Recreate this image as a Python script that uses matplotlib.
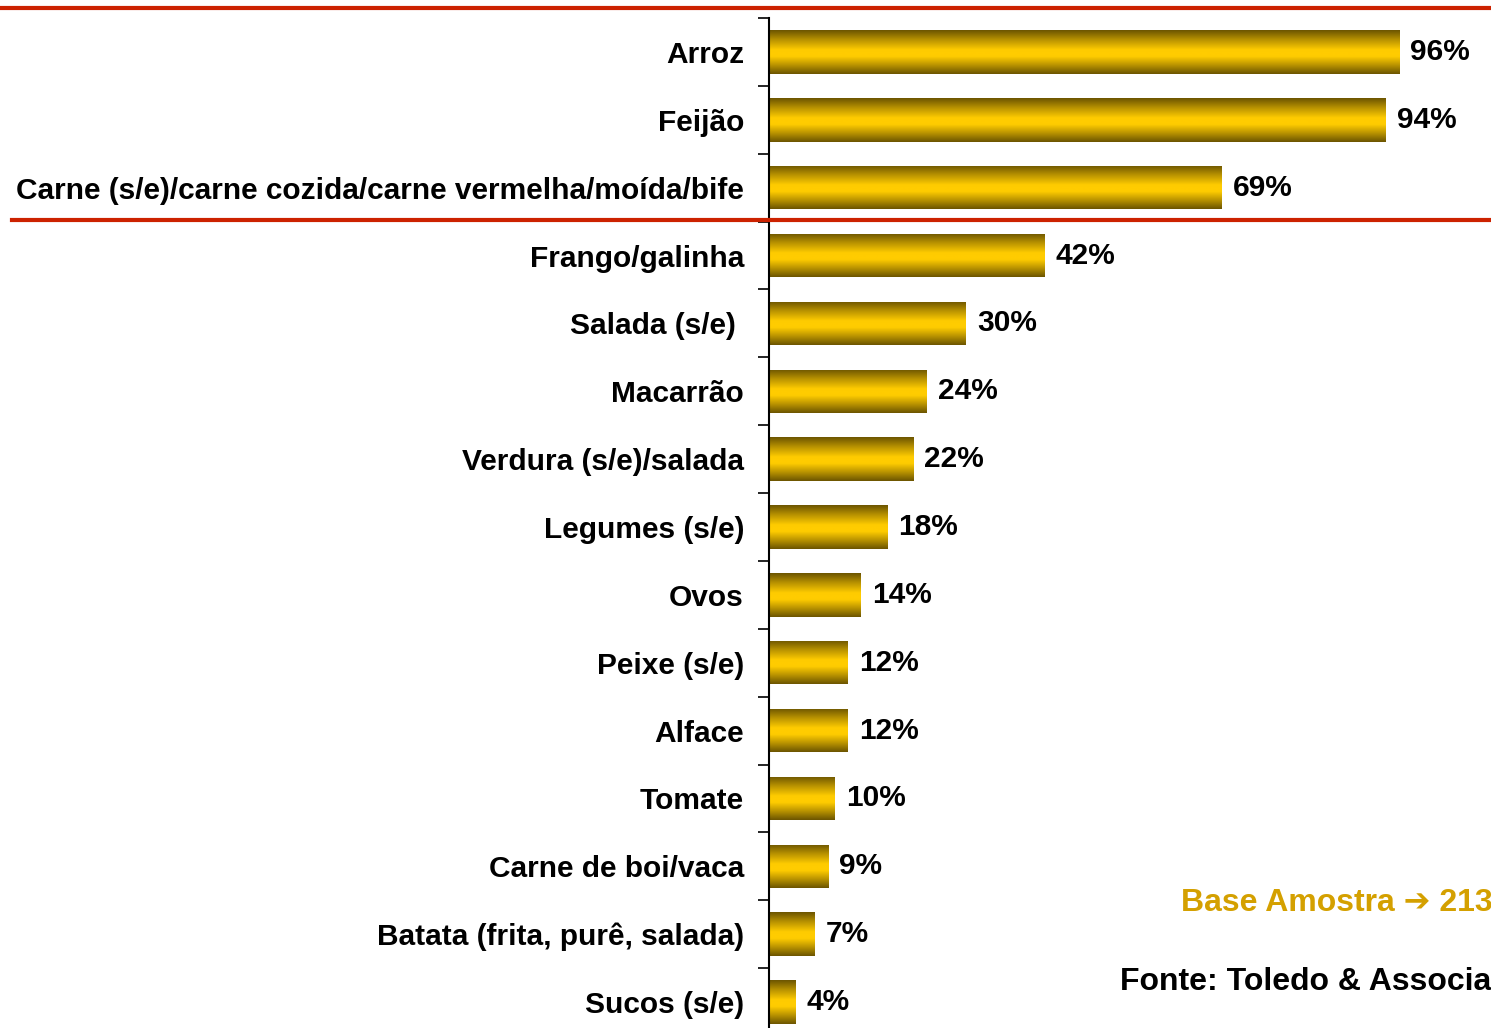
import matplotlib
matplotlib.use("Agg")
import matplotlib.pyplot as plt
import numpy as np
from matplotlib.colors import LinearSegmentedColormap
import matplotlib.transforms as mtransforms

plt.rcParams['font.family'] = ['Liberation Sans', 'DejaVu Sans']

categories = ["Arroz", "Feijão", "Carne (s/e)/carne cozida/carne vermelha/moída/bife",
              "Frango/galinha", "Salada (s/e) ", "Macarrão", "Verdura (s/e)/salada",
              "Legumes (s/e)", "Ovos", "Peixe (s/e)", "Alface", "Tomate",
              "Carne de boi/vaca", "Batata (frita, purê, salada)", "Sucos (s/e)"]
values = [96, 94, 69, 42, 30, 24, 22, 18, 14, 12, 12, 10, 9, 7, 4]
value_labels = ["96%", "94%", "69%", "42%", "30%", "24%", "22%", "18%", "14%",
                "12%", "12%", "10%", "9%", "7%", "4%"]

W, H = 1491, 1028
fig = plt.figure(figsize=(W / 100, H / 100), dpi=100)
ax = fig.add_axes([769 / W, 1 - 1036 / H, 1 - 769 / W, (1036 - 18) / H])

y = np.arange(len(categories))
bars = ax.barh(y, values, height=0.64, color='none', edgecolor='none')

cmap = LinearSegmentedColormap.from_list(
    "gold", [(0.0, "#6b5400"), (0.22, "#b89200"), (0.45, "#ffcc00"),
             (0.6, "#ffcc00"), (0.8, "#b89200"), (1.0, "#6b5400")])
grad = np.linspace(0, 1, 256).reshape(-1, 1)
for b in bars:
    x0, yb = b.get_x(), b.get_y()
    w, h = b.get_width(), b.get_height()
    im = ax.imshow(grad, cmap=cmap, aspect='auto', extent=(x0, x0 + w, yb + h, yb),
                   interpolation='bicubic', zorder=2)
    im.set_clip_path(b)

ax.set_xlim(0, 110)
ax.set_ylim(len(categories) - 0.5, -0.5)

for yi, v, lab in zip(y, values, value_labels):
    off = mtransforms.offset_copy(ax.transData, fig=fig, x=11, y=0, units='dots')
    ax.text(v, yi, lab, transform=off, ha='left', va='center',
            fontsize=21.5, fontweight='bold', color='black')

for s in ['top', 'right', 'bottom']:
    ax.spines[s].set_visible(False)
ax.spines['left'].set_linewidth(1.5)
ax.spines['left'].set_color('black')
ax.set_xticks([])
ax.set_yticks(y)
ax.set_yticklabels(categories, fontsize=21.5, fontweight='bold')
ax.tick_params(axis='y', which='major', length=0, pad=18)
ax.set_yticks(np.arange(-0.5, len(categories), 1), minor=True)
ax.tick_params(axis='y', which='minor', length=8, width=1.2, direction='out')

# red separator lines
fig.add_artist(plt.Line2D([0, 1], [1 - 8 / H, 1 - 8 / H], transform=fig.transFigure,
                          color='#cc2200', linewidth=3))
fig.add_artist(plt.Line2D([12 / W, 1], [1 - 220 / H, 1 - 220 / H], transform=fig.transFigure,
                          color='#cc2200', linewidth=3))

fig.text(1181 / W, 1 - 903 / H, "Base Amostra ➔ 213", ha='left', va='center',
         fontsize=23, fontweight='bold', color='#d4a000')
fig.text(1120 / W, 1 - 982 / H, "Fonte: Toledo & Associados", ha='left', va='center',
         fontsize=23, fontweight='bold', color='black')

fig.savefig("out.png", dpi=100)
